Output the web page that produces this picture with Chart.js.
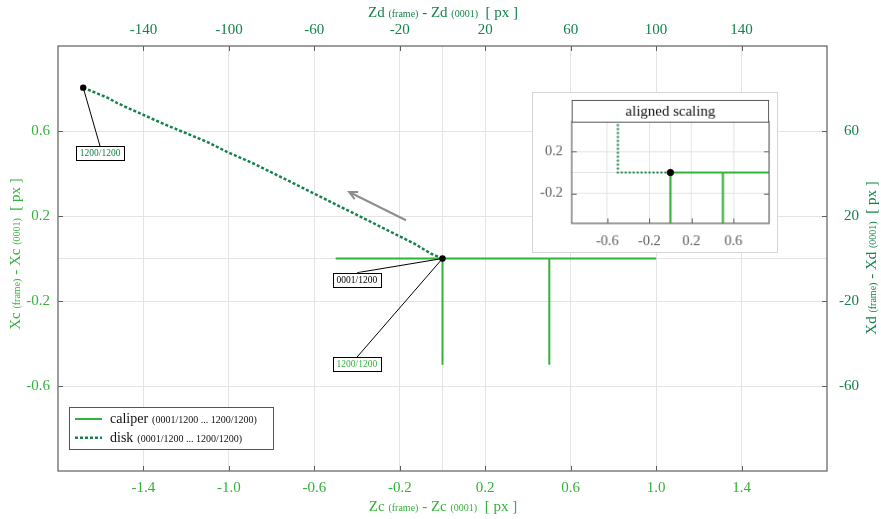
<!DOCTYPE html>
<html lang="en">
<head>
<meta charset="UTF-8">
<title>Caliper / disk drift</title>
<script src="https://cdn.jsdelivr.net/npm/chart.js"></script>
<style>
  body { margin: 0; background: #fff; }
  #wrap { position: relative; width: 881px; height: 519px; }
  #main { position: absolute; left: 0; top: 0; }
  #inset { position: absolute; left: 532px; top: 92px; border: 1px solid #d6d6d6; background: #fff; }
</style>
</head>
<body>
<div id="wrap">
  <canvas id="main" width="881" height="519"></canvas>
  <canvas id="inset" width="246" height="161"></canvas>
</div>
<script>
const FONT = "'Liberation Serif', 'Times New Roman', serif";
const LIGHT_GREEN = '#34b23a';
const DARK_GREEN = '#14824a';

// caliper path, null breaks the line
const caliperZ = [-0.5, 1.0, null, 0, 0, null, 0.5, 0.5];
const caliperX = [0, 0, null, 0, -0.5, null, 0, -0.5];
// disk path, frame 0001 -> 1200
const diskZ = [0, -0.054, -0.132, -0.226, -0.366, -0.491, -0.600, -0.726, -0.874, -1.007, -1.100, -1.194, -1.288, -1.412, -1.522, -1.569, -1.682];
const diskX = [0, 0.023, 0.070, 0.117, 0.188, 0.250, 0.305, 0.368, 0.442, 0.501, 0.548, 0.587, 0.626, 0.681, 0.731, 0.757, 0.804];
// black dots (0001 start, disk 1200 end)
const markerZ = [0, -1.682];
const markerX = [0, 0.804];

const zcTicks = [-1.4, -1.0, -0.6, -0.2, 0, 0.2, 0.6, 1.0, 1.4];
const xcTicks = [-0.6, -0.2, 0, 0.2, 0.6];
const zdTicks = [-140, -100, -60, -20, 20, 60, 100, 140];
const xdTicks = [-60, -20, 20, 60];

// inset "aligned scaling"
const insetCaliperZ = [0, 1.2, null, 0, 0, null, 0.5, 0.5];
const insetCaliperX = [0, 0, null, 0, -0.6, null, 0, -0.6];
const insetDiskZ = [0, -0.5, -0.5];
const insetDiskX = [0, 0, 0.6];
const insetMarkerZ = [0];
const insetMarkerX = [0];
const insetZTicks = [-0.6, -0.2, 0, 0.2, 0.6];
const insetXTicks = [-0.2, 0, 0.2];

const notes = [
  { text: '1200/1200', color: DARK_GREEN, from: [-1.682, 0.804], at: [-1.603, 0.495] },
  { text: '0001/1200', color: '#000', from: [0, 0], at: [-0.401, -0.10] },
  { text: '1200/1200', color: LIGHT_GREEN, from: [0, 0], at: [-0.401, -0.498] }
];
const arrowFrom = [-0.171, 0.18];
const arrowTo = [-0.437, 0.313];

function pts(zs, xs) {
  return zs.map((z, i) => ({ x: z, y: xs[i] }));
}

function setTicks(list) {
  return s => { s.ticks = list.map(v => ({ value: v })); };
}

function richText(ctx, pieces, x, y, rot, color) {
  ctx.save();
  ctx.translate(x, y);
  ctx.rotate(rot);
  let w = 0;
  pieces.forEach(p => { ctx.font = p[1] + 'px ' + FONT; w += ctx.measureText(p[0]).width; });
  let cx = -w / 2;
  ctx.fillStyle = color;
  ctx.textAlign = 'left';
  ctx.textBaseline = 'alphabetic';
  pieces.forEach(p => {
    ctx.font = p[1] + 'px ' + FONT;
    ctx.fillText(p[0], cx, 0);
    cx += ctx.measureText(p[0]).width;
  });
  ctx.restore();
}

function axisTitle(a) {
  return [[a + ' ', 15], ['(frame)', 10], [' - ' + a + ' ', 15], ['(0001)', 10], ['  [ px ]', 15]];
}

// box + inward tick marks
function frameTicks(opts) {
  return {
    id: 'frameTicks',
    afterDatasetsDraw(chart) {
      const { ctx, chartArea: a, scales } = chart;
      ctx.save();
      ctx.strokeStyle = '#5e5e5e';
      ctx.lineWidth = 1;
      ctx.beginPath();
      scales.x.ticks.forEach(t => {
        if (t.value === 0) return;
        const px = Math.round(scales.x.getPixelForValue(t.value)) + 0.5;
        ctx.moveTo(px, a.bottom); ctx.lineTo(px, a.bottom - 5);
        if (opts.top) { ctx.moveTo(px, a.top); ctx.lineTo(px, a.top + 5); }
      });
      scales.y.ticks.forEach(t => {
        if (t.value === 0) return;
        const py = Math.round(scales.y.getPixelForValue(t.value)) + 0.5;
        ctx.moveTo(a.left, py); ctx.lineTo(a.left + 5, py);
        ctx.moveTo(a.right, py); ctx.lineTo(a.right - 5, py);
      });
      ctx.stroke();
      ctx.strokeStyle = '#6a6a6a';
      ctx.lineWidth = 1.3;
      ctx.strokeRect(a.left, a.top, a.right - a.left, a.bottom - a.top);
      ctx.restore();
    }
  };
}

const mainExtras = {
  id: 'mainExtras',
  afterDatasetsDraw(chart) {
    const { ctx, scales } = chart;
    const P = (z, x) => [scales.x.getPixelForValue(z), scales.y.getPixelForValue(x)];
    ctx.save();

    // direction arrow
    const [ax0, ay0] = P(arrowFrom[0], arrowFrom[1]);
    const [ax1, ay1] = P(arrowTo[0], arrowTo[1]);
    const ang = Math.atan2(ay1 - ay0, ax1 - ax0);
    ctx.strokeStyle = '#8e8e8e';
    ctx.lineWidth = 2;
    ctx.beginPath();
    ctx.moveTo(ax0, ay0); ctx.lineTo(ax1, ay1);
    ctx.moveTo(ax1 - 9 * Math.cos(ang - 0.45), ay1 - 9 * Math.sin(ang - 0.45));
    ctx.lineTo(ax1, ay1);
    ctx.lineTo(ax1 - 9 * Math.cos(ang + 0.45), ay1 - 9 * Math.sin(ang + 0.45));
    ctx.stroke();

    // frame labels with leader lines
    ctx.font = '9.5px ' + FONT;
    ctx.textAlign = 'center';
    ctx.textBaseline = 'middle';
    notes.forEach(n => {
      const [fx, fy] = P(n.from[0], n.from[1]);
      const [bx, by] = P(n.at[0], n.at[1]);
      ctx.strokeStyle = '#000';
      ctx.lineWidth = 1;
      ctx.beginPath();
      ctx.moveTo(fx, fy); ctx.lineTo(bx, by - 7);
      ctx.stroke();
      ctx.fillStyle = '#fff';
      ctx.fillRect(bx - 24, by - 7, 48, 14);
      ctx.strokeRect(Math.round(bx - 24) + 0.5, Math.round(by - 7) + 0.5, 48, 14);
      ctx.fillStyle = n.color;
      ctx.fillText(n.text, bx, by + 0.5);
    });

    // dots on top
    ctx.fillStyle = '#000';
    markerZ.forEach((z, i) => {
      const [mx, my] = P(z, markerX[i]);
      ctx.beginPath(); ctx.arc(mx, my, 3.2, 0, Math.PI * 2); ctx.fill();
    });

    // legend
    const a = chart.chartArea;
    const lx = a.left + 11, ly = a.bottom - 64;
    ctx.fillStyle = '#fff';
    ctx.fillRect(lx, ly, 204, 42);
    ctx.strokeStyle = '#555';
    ctx.lineWidth = 1;
    ctx.strokeRect(lx + 0.5, ly + 0.5, 204, 42);
    const rows = [
      ['caliper', LIGHT_GREEN, [], 2],
      ['disk', DARK_GREEN, [3, 2], 2.5]
    ];
    rows.forEach((r, i) => {
      const y = ly + 12 + i * 18.7;
      ctx.strokeStyle = r[1];
      ctx.lineWidth = r[3];
      ctx.setLineDash(r[2]);
      ctx.beginPath(); ctx.moveTo(lx + 6, y); ctx.lineTo(lx + 33, y); ctx.stroke();
      ctx.setLineDash([]);
      ctx.fillStyle = '#111';
      ctx.textAlign = 'left';
      ctx.textBaseline = 'alphabetic';
      ctx.font = '14px ' + FONT;
      ctx.fillText(r[0], lx + 41, y + 4);
      const w = ctx.measureText(r[0]).width;
      ctx.font = '10px ' + FONT;
      ctx.fillText('(0001/1200 ... 1200/1200)', lx + 41 + w + 4, y + 4);
    });
    ctx.restore();
  },
  afterDraw(chart) {
    const ctx = chart.ctx;
    richText(ctx, axisTitle('Zc'), 443, 511, 0, LIGHT_GREEN);
    richText(ctx, axisTitle('Zd'), 443, 17, 0, DARK_GREEN);
    richText(ctx, axisTitle('Xc'), 20, 254, -Math.PI / 2, LIGHT_GREEN);
    richText(ctx, axisTitle('Xd'), 876, 258, -Math.PI / 2, DARK_GREEN);
  }
};

const tickFont = { family: FONT, size: 15 };

new Chart(document.getElementById('main'), {
  type: 'scatter',
  data: {
    datasets: [
      { label: 'caliper', data: pts(caliperZ, caliperX), showLine: true, spanGaps: false,
        borderColor: LIGHT_GREEN, borderWidth: 2, pointRadius: 0, order: 2 },
      { label: 'disk', data: pts(diskZ, diskX), showLine: true,
        borderColor: DARK_GREEN, borderWidth: 2.5, borderDash: [3, 2], pointRadius: 0, order: 1 }
    ]
  },
  options: {
    responsive: false,
    animation: false,
    layout: { padding: { right: 22 } },
    plugins: { legend: { display: false }, tooltip: { enabled: false } },
    scales: {
      x: {
        type: 'linear', position: 'bottom', min: -1.8, max: 1.8,
        afterBuildTicks: setTicks(zcTicks),
        afterFit: s => { s.height = 48; },
        grid: { color: '#e4e4e4', drawTicks: false },
        border: { display: false },
        ticks: { autoSkip: false, maxRotation: 0, padding: 8, color: LIGHT_GREEN, font: tickFont,
          callback: v => v === 0 ? '' : v.toFixed(1) }
      },
      x2: {
        type: 'linear', position: 'top', min: -180, max: 180,
        afterBuildTicks: setTicks(zdTicks),
        afterFit: s => { s.height = 46; },
        grid: { display: false, drawTicks: false },
        border: { display: false },
        ticks: { autoSkip: false, maxRotation: 0, padding: 7, color: DARK_GREEN, font: tickFont,
          callback: v => String(v) }
      },
      y: {
        type: 'linear', position: 'left', min: -1, max: 1,
        afterBuildTicks: setTicks(xcTicks),
        afterFit: s => { s.width = 58; },
        grid: { color: '#e4e4e4', drawTicks: false },
        border: { display: false },
        ticks: { autoSkip: false, padding: 8, color: LIGHT_GREEN, font: tickFont,
          callback: v => v === 0 ? '' : v.toFixed(1) }
      },
      y2: {
        type: 'linear', position: 'right', min: -100, max: 100,
        afterBuildTicks: setTicks(xdTicks),
        afterFit: s => { s.width = 32; },
        grid: { display: false, drawTicks: false },
        border: { display: false },
        ticks: { autoSkip: false, crossAlign: 'far', padding: 8, color: DARK_GREEN, font: tickFont,
          callback: v => String(v) }
      }
    }
  },
  plugins: [frameTicks({ top: true }), mainExtras]
});

const insetExtras = {
  id: 'insetExtras',
  afterDraw(chart) {
    const { ctx, chartArea: a } = chart;
    ctx.save();
    ctx.fillStyle = '#fff';
    ctx.fillRect(a.left, 7, a.right - a.left, a.top - 7);
    ctx.strokeStyle = '#555';
    ctx.lineWidth = 1;
    ctx.strokeRect(a.left + 0.5, 7.5, a.right - a.left - 1, a.top - 7);
    ctx.fillStyle = '#111';
    ctx.font = '15px ' + FONT;
    ctx.textAlign = 'center';
    ctx.textBaseline = 'middle';
    ctx.fillText('aligned scaling', (a.left + a.right) / 2, (7 + a.top) / 2 + 1);
    ctx.restore();
  }
};

const insetFont = { family: FONT, size: 14.5 };

new Chart(document.getElementById('inset'), {
  type: 'scatter',
  data: {
    datasets: [
      { data: pts(insetMarkerZ, insetMarkerX), pointRadius: 3.2, backgroundColor: '#000', borderColor: '#000', order: 0 },
      { data: pts(insetCaliperZ, insetCaliperX), showLine: true, spanGaps: false,
        borderColor: LIGHT_GREEN, borderWidth: 2.2, pointRadius: 0, order: 2 },
      { data: pts(insetDiskZ, insetDiskX), showLine: true,
        borderColor: DARK_GREEN, borderWidth: 2.2, borderDash: [2, 2], pointRadius: 0, order: 1 }
    ]
  },
  options: {
    responsive: false,
    animation: false,
    layout: { padding: { top: 29, right: 8 } },
    plugins: { legend: { display: false }, tooltip: { enabled: false } },
    scales: {
      x: {
        type: 'linear', position: 'bottom', min: -0.94, max: 0.94,
        afterBuildTicks: setTicks(insetZTicks),
        afterFit: s => { s.height = 29; },
        grid: { color: '#e4e4e4', drawTicks: false },
        border: { display: false },
        ticks: { autoSkip: false, maxRotation: 0, padding: 9, color: '#5c5c5c', font: insetFont,
          callback: v => v === 0 ? '' : v.toFixed(1) }
      },
      y: {
        type: 'linear', position: 'left', min: -0.49, max: 0.49,
        afterBuildTicks: setTicks(insetXTicks),
        afterFit: s => { s.width = 39; },
        grid: { color: '#e4e4e4', drawTicks: false },
        border: { display: false },
        ticks: { autoSkip: false, padding: 9, color: '#5c5c5c', font: insetFont,
          callback: v => v === 0 ? '' : v.toFixed(1) }
      }
    }
  },
  plugins: [frameTicks({ top: false }), insetExtras]
});
</script>
</body>
</html>
